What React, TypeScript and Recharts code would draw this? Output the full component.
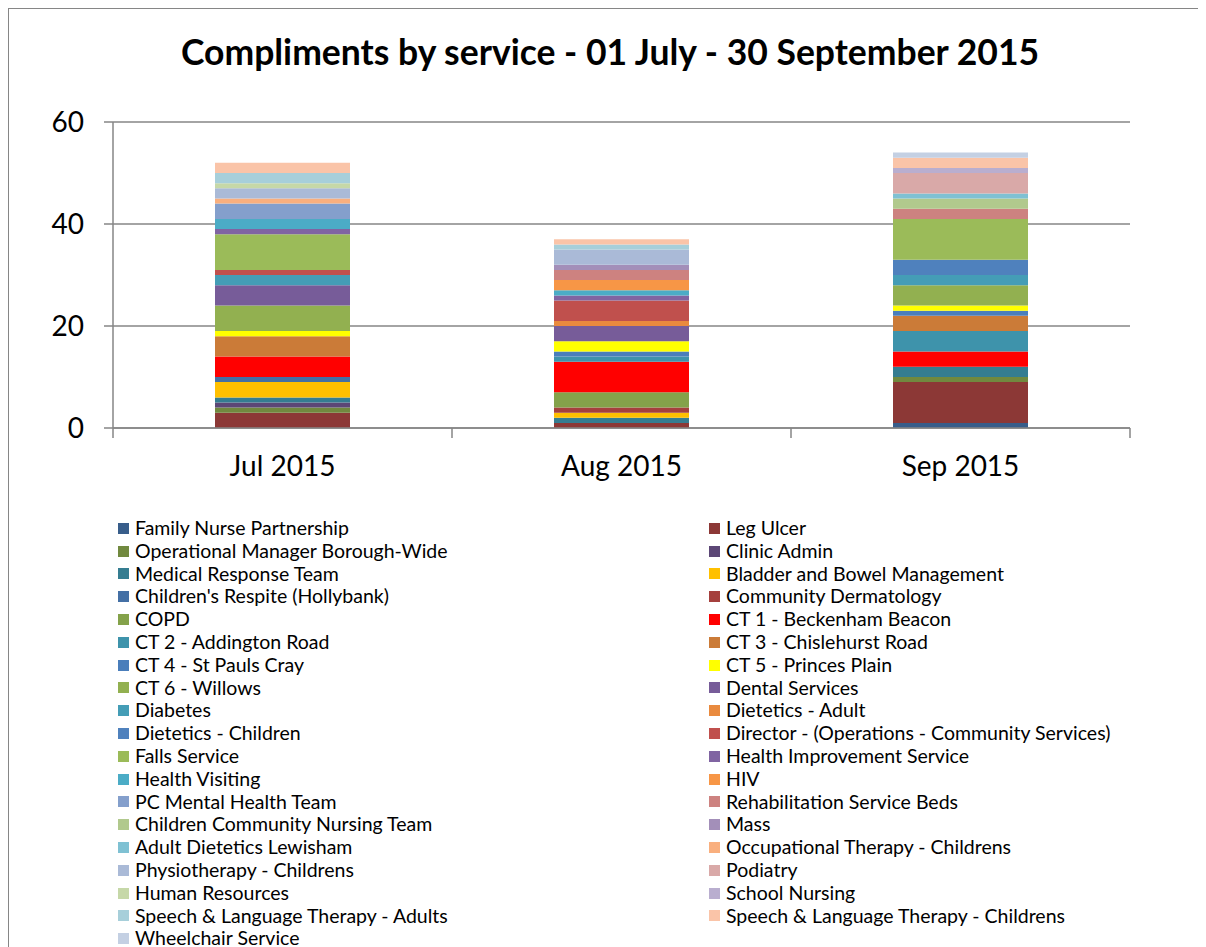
import { BarChart, Bar, XAxis, YAxis, CartesianGrid } from "recharts";

const months = ["Jul 2015", "Aug 2015", "Sep 2015"];

const services = [
  "Family Nurse Partnership",
  "Leg Ulcer",
  "Operational Manager Borough-Wide",
  "Clinic Admin",
  "Medical Response Team",
  "Bladder and Bowel Management",
  "Children's Respite (Hollybank)",
  "Community Dermatology",
  "COPD",
  "CT 1 - Beckenham Beacon",
  "CT 2 - Addington Road",
  "CT 3 - Chislehurst Road",
  "CT 4 - St Pauls Cray",
  "CT 5 - Princes Plain",
  "CT 6 - Willows",
  "Dental Services",
  "Diabetes",
  "Dietetics - Adult",
  "Dietetics - Children",
  "Director - (Operations - Community Services)",
  "Falls Service",
  "Health Improvement Service",
  "Health Visiting",
  "HIV",
  "PC Mental Health Team",
  "Rehabilitation Service Beds",
  "Children Community Nursing Team",
  "Mass",
  "Adult Dietetics Lewisham",
  "Occupational Therapy - Childrens",
  "Physiotherapy - Childrens",
  "Podiatry",
  "Human Resources",
  "School Nursing",
  "Speech & Language Therapy - Adults",
  "Speech & Language Therapy - Childrens",
  "Wheelchair Service",
];

const colors = [
  "#385D8A", "#8C3836", "#71893F", "#5C4776", "#357D91", "#FFC000",
  "#4470A5", "#A5403D", "#84A24A", "#FF0000", "#3E93AB", "#CB7B38",
  "#4A7EBB", "#FFFF00", "#92B050", "#775C99", "#449DB6", "#E98A3E",
  "#4F81BD", "#C0504D", "#9BBB59", "#8064A2", "#4BACC6", "#F79646",
  "#849FCC", "#CD8280", "#B1C98D", "#A38FB9", "#7FC1D3", "#F9AF7E",
  "#AABAD7", "#D9A9A8", "#C6D8A8", "#B9AECF", "#A7CFDA", "#FAC4A8",
  "#C4D0E3",
];

// values per service, same order as services
const jul = [0, 3, 1, 1, 1, 3, 1, 0, 0, 4, 0, 4, 0, 1, 5, 4, 2, 0, 0, 1, 7, 1, 2, 0, 3, 0, 0, 0, 0, 1, 2, 0, 1, 0, 2, 2, 0];
const aug = [0, 1, 0, 0, 1, 1, 0, 1, 3, 6, 1, 0, 1, 2, 0, 3, 0, 1, 0, 4, 0, 1, 1, 2, 0, 2, 0, 1, 0, 0, 3, 0, 0, 0, 1, 1, 0];
const sep = [1, 8, 1, 0, 2, 0, 0, 0, 0, 3, 4, 3, 1, 1, 4, 0, 2, 0, 3, 0, 8, 0, 0, 0, 0, 2, 2, 0, 1, 0, 0, 4, 0, 1, 0, 2, 1];

const yTicks = [0, 20, 40, 60];

const monthValues = [jul, aug, sep];
const data = months.map((m, i) => {
  const row: Record<string, string | number> = { month: m };
  services.forEach((s, j) => {
    row["s" + j] = monthValues[i][j];
  });
  return row;
});

const FONT = "Lato, 'Open Sans', sans-serif";
const AXIS = "#868686";
const PLOT_W = 1017;

function MonthTick(props: any) {
  const { x, y, payload, index } = props;
  const band = PLOT_W / months.length;
  return (
    <g>
      <line x1={x - band / 2} x2={x - band / 2} y1={y - 8} y2={y + 2} stroke={AXIS} strokeWidth={1.5} />
      {index === months.length - 1 && (
        <line x1={x + band / 2} x2={x + band / 2} y1={y - 8} y2={y + 2} stroke={AXIS} strokeWidth={1.5} />
      )}
      <text x={x} y={y + 40} textAnchor="middle" fontSize={28} fill="#000" fontFamily={FONT}>
        {payload.value}
      </text>
    </g>
  );
}

export default function App() {
  return (
    <div
      style={{
        position: "relative",
        width: 1198,
        height: 939,
        borderTop: `1px solid ${AXIS}`,
        borderLeft: `1px solid ${AXIS}`,
        overflow: "hidden",
        fontFamily: FONT,
        background: "#fff",
      }}
    >
      <div
        style={{
          position: "absolute",
          top: 21,
          left: 0,
          width: 1202,
          textAlign: "center",
          fontSize: 35.5,
          fontWeight: 700,
          color: "#000",
        }}
      >
        Compliments by service - 01 July - 30 September 2015
      </div>
      <div style={{ position: "absolute", top: 0, left: 0 }}>
        <BarChart
          width={1197}
          height={490}
          data={data}
          margin={{ top: 113, right: 76, left: 0, bottom: 0 }}
        >
          <CartesianGrid vertical={false} stroke={AXIS} strokeWidth={1.5} />
          <XAxis
            dataKey="month"
            height={71}
            axisLine={{ stroke: AXIS, strokeWidth: 1.5 }}
            tickLine={false}
            tick={<MonthTick />}
            interval={0}
          />
          <YAxis
            width={104}
            domain={[0, 60]}
            ticks={yTicks}
            axisLine={{ stroke: AXIS, strokeWidth: 1.5 }}
            tickLine={{ stroke: AXIS, strokeWidth: 1.5 }}
            tickSize={9}
            tickMargin={20}
            tick={{ fontSize: 28, fill: "#000", fontFamily: FONT }}
          />
          {services.map((s, j) => (
            <Bar
              key={s}
              dataKey={"s" + j}
              name={s}
              stackId="a"
              fill={colors[j]}
              barSize={135}
              isAnimationActive={false}
            />
          ))}
        </BarChart>
      </div>
      <div
        style={{
          position: "absolute",
          top: 508,
          left: 109,
          display: "grid",
          gridTemplateColumns: "591px 500px",
          fontSize: 19.5,
          lineHeight: "22.8px",
          color: "#000",
        }}
      >
        {services.map((s, j) => (
          <div key={s} style={{ display: "flex", alignItems: "center", whiteSpace: "nowrap", height: 22.8 }}>
            <span
              style={{
                display: "inline-block",
                width: 11,
                height: 11,
                background: colors[j],
                marginRight: 6,
                flexShrink: 0,
              }}
            />
            {s}
          </div>
        ))}
      </div>
    </div>
  );
}
